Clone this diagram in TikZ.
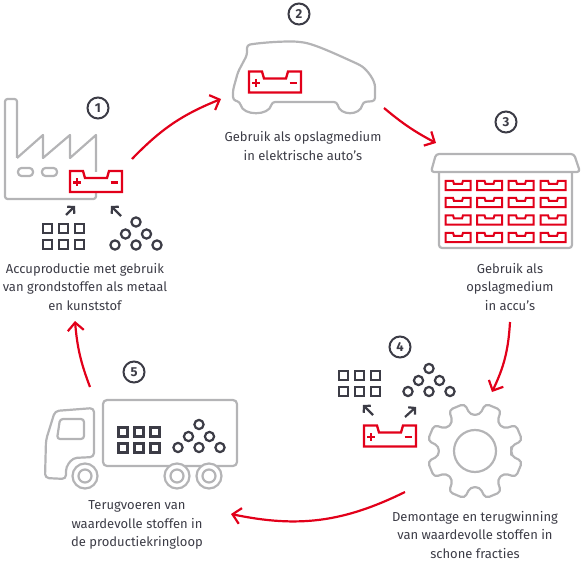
\documentclass[tikz,border=0pt]{standalone}
\usepackage{fontspec}
\setmainfont{Fira Sans}
\usepackage{tikz}
\usetikzlibrary{arrows.meta}
\definecolor{RedMid}{HTML}{E2001A}
\definecolor{GrayMid}{HTML}{B4B4B6}
\definecolor{DarkMid}{HTML}{3C3C46}
\tikzset{
  lbl/.style={align=center, font=\fontsize{13}{18.6}\selectfont, text=DarkMid, inner sep=0pt},
  badge/.style={circle, draw=DarkMid, line width=2pt, minimum size=21pt, inner sep=0pt,
                font=\fontsize{13}{13}\selectfont\bfseries, text=DarkMid},
  gline/.style={draw=GrayMid, line width=2.2pt, line join=round},
  rline/.style={draw=RedMid, line width=2.3pt, line join=miter},
  dline/.style={draw=DarkMid, line width=2.2pt},
  rarr/.style={-{Straight Barb[length=8pt,width=16pt,line width=2.2pt]}, draw=RedMid, line width=2.2pt},
  darr/.style={-{Straight Barb[length=4.5pt,width=10pt,line width=2.2pt]}, draw=DarkMid, line width=2.2pt},
  batt/.pic={
    \draw[rline, fill=white] (-26,10.5) -- (-26,-10.5) -- (-13,-10.5) -- (-11,-3.5) -- (11,-3.5)
      -- (13,-10.5) -- (26,-10.5) -- (26,10.5) -- cycle;
    \draw[draw=RedMid, line width=2.3pt] (-22.7,1) -- (-14.7,1) (-18.7,-3) -- (-18.7,5);
    \draw[draw=RedMid, line width=2.3pt] (14.7,1) -- (22.3,1);
  },
  cell/.pic={
    \draw[draw=RedMid, line width=2pt] (-12.5,4.7) -- (-12.5,-4.7) -- (-5,-4.7) -- (-4,-1.5) -- (4,-1.5)
      -- (5,-4.7) -- (12.5,-4.7) -- (12.5,4.7) -- cycle;
  },
  blocks/.pic={
    \foreach \cx in {-16,0,16} \foreach \cy in {-8,8}
      \draw[dline] (\cx-4.5,\cy-4.5) rectangle (\cx+4.5,\cy+4.5);
  },
  grains/.pic={
    \foreach \cx/\cy in {0/-12, -10.5/0, 10.5/0, -21/11, 0/11, 21/11}
      \draw[dline] (\cx,\cy) circle (4.6);
  },
}
\begin{document}
\begin{tikzpicture}[x=1pt, y=-1pt]
  \useasboundingbox (0,0) rectangle (586,561);

  % Factory
  \draw[gline, rounded corners=2.5pt] (96,192) -- (96,199) -- (5,199) -- (5,99) -- (17,99) -- (17,158);
  \draw[gline] (17,158) -- (43,135) -- (43,158) -- (70,135) -- (70,158) -- (96,135) -- (96,172);
  \draw[gline, rounded corners=3.5pt] (18,168) rectangle (33,176);
  \draw[gline, rounded corners=3.5pt] (42,168) rectangle (57,176);
  \pic at (96,181.5) {batt};
  \pic at (63.5,236.5) {blocks};
  \pic at (136,234) {grains};
  \coordinate (mat1s) at (66,215);
  \coordinate (mat1e) at (75,206);
  \coordinate (mat2s) at (121,216);
  \coordinate (mat2e) at (111,206);
  \draw[darr] (mat1s) -- (mat1e);
  \draw[darr] (mat2s) -- (mat2e);
  \node[badge] (num1) at (98,108) {1};
  \node[lbl] (txt1) at (85,287) {Accuproductie met gebruik\\van grondstoffen als metaal\\en kunststof};

  % Car
  \draw[gline, rounded corners=3pt] (247,45) .. controls (265,42) and (290,41) .. (300,42)
    .. controls (315,44) and (340,56) .. (360,65) .. controls (367,70) and (375,80) .. (375,90)
    -- (375,101) -- (363,102) .. controls (360,116) and (340,116) .. (337,102) -- (272,102)
    .. controls (269,116) and (243,116) .. (240,102) -- (233,100) -- (233,90)
    -- (238,72) -- (247,55) -- cycle;
  \pic at (275,82) {batt};
  \node[badge] (num2) at (299,14) {2};
  \node[lbl] (txt2) at (303,146) {Gebruik als opslagmedium\\in elektrische auto’s};

  % Storage
  \draw[gline, rounded corners=3pt] (431,172) -- (436,154) -- (574,154) -- (580,172) -- cycle;
  \draw[gline, rounded corners=3pt] (439,172) -- (439,248) -- (572,248) -- (572,172);
  \foreach \cx in {458,489.5,521,553} \foreach \cy in {185.5,202.5,220,237.5}
    \pic at (\cx,\cy) {cell};
  \node[badge] (num3) at (506,122) {3};
  \node[lbl] (txt3) at (510,287) {Gebruik als\\opslagmedium\\in accu’s};

  % Gear
  \begin{scope}[shift={(475,451)}]
    \draw[gline, rounded corners=4pt] (0:36.5) \foreach \a in {22.5,67.5,...,337.5} {
      -- (\a-15:36.5) -- (\a-10:48.5) -- (\a+10:48.5) -- (\a+15:36.5) } -- cycle;
    \draw[gline] (0,0) circle (21);
  \end{scope}
  \pic at (390,436) {batt};
  \pic at (359.5,383.5) {blocks};
  \pic at (429,380.5) {grains};
  \coordinate (mat3s) at (373,415);
  \coordinate (mat3e) at (363,405);
  \coordinate (mat4s) at (405,417);
  \coordinate (mat4e) at (416,407);
  \draw[darr] (mat3s) -- (mat3e);
  \draw[darr] (mat4s) -- (mat4e);
  \node[badge] (num4) at (400,347) {4};
  \node[lbl] (txt4) at (475,535) {Demontage en terugwinning\\van waardevolle stoffen in\\schone fracties};

  % Truck
  \draw[gline, rounded corners=4pt] (103,400) rectangle (237,466);
  \draw[gline, rounded corners=4pt] (94,457) -- (94,408) -- (55,411) -- (46,440) -- (45,478)
    -- (66,479) -- (66,467) -- (73,458) -- cycle;
  \draw[gline, rounded corners=3pt] (60,419) -- (84,419) -- (84,439) -- (57,439) -- cycle;
  \foreach \cx in {85,177,209} {
    \draw[gline, fill=white] (\cx,476) circle (12.5);
    \draw[gline] (\cx,476) circle (6.5);
  }
  \pic at (139,440) {blocks};
  \pic at (199,436.5) {grains};
  \node[badge] (num5) at (134,372) {5};
  \node[lbl] (txt5) at (137,525) {Terugvoeren van\\waardevolle stoffen in\\de productiekringloop};

  % Arrows
  \coordinate (a1) at (132,159);
  \coordinate (b1) at (221,99);
  \coordinate (a2) at (384,108);
  \coordinate (b2) at (436,143);
  \coordinate (a3) at (510,322);
  \coordinate (b3) at (492,392);
  \coordinate (a4) at (405,492);
  \coordinate (b4) at (231,514);
  \coordinate (a5) at (90,387);
  \coordinate (b5) at (75,321);
  \draw[rarr] (a1) to[bend left=12] (b1);
  \draw[rarr] (a2) to[bend right=6] (b2);
  \draw[rarr] (a3) to[bend left=11] (b3);
  \draw[rarr] (a4) to[bend left=19] (b4);
  \draw[rarr] (a5) to[bend left=8] (b5);

\end{tikzpicture}
\end{document}
